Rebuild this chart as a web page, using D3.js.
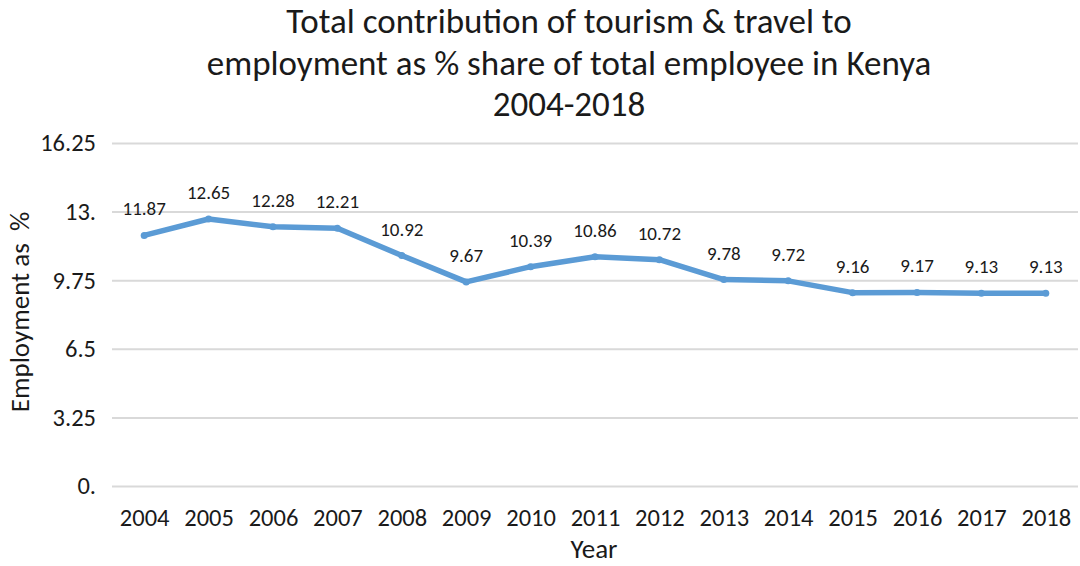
<!DOCTYPE html>
<html>
<head>
<meta charset="utf-8">
<script src="https://cdn.jsdelivr.net/npm/d3@7"></script>
<style>
  html, body { margin: 0; padding: 0; background: #fff; }
  svg { display: block; font-family: Carlito, Calibri, Lato, sans-serif; }
</style>
</head>
<body>
<svg id="chart" width="1080" height="566"></svg>
<script>
// Kenya: travel & tourism total contribution to employment (% of total)
const years = ["2004","2005","2006","2007","2008","2009","2010","2011","2012","2013","2014","2015","2016","2017","2018"];
const shares = [11.87, 12.65, 12.28, 12.21, 10.92, 9.67, 10.39, 10.86, 10.72, 9.78, 9.72, 9.16, 9.17, 9.13, 9.13];
const yTicks = [0, 3.25, 6.5, 9.75, 13, 16.25];
const yTickLabels = ["0.", "3.25", "6.5", "9.75", "13.", "16.25"];
const titleLines = [
  "Total contribution of tourism & travel to",
  "employment as % share of total employee in Kenya",
  "2004-2018"
];

const svg = d3.select("#chart");
const plot = { left: 112, right: 1078, top: 143, bottom: 486 };

const x = d3.scalePoint().domain(years).range([plot.left, plot.right]).padding(0.5);
const y = d3.scaleLinear().domain([0, 16.25]).range([plot.bottom, plot.top]);

// title
svg.append("g").selectAll("text").data(titleLines).join("text")
  .attr("x", 569).attr("y", (d, i) => 33 + i * 41.5)
  .attr("text-anchor", "middle")
  .attr("font-size", 35).attr("fill", "#1a1a1a")
  .text(d => d);

// horizontal gridlines + y labels
const yAxis = d3.axisLeft(y).tickValues(yTicks)
  .tickSize(-(plot.right - plot.left))
  .tickPadding(16)
  .tickFormat((d, i) => yTickLabels[i]);
const gy = svg.append("g").attr("transform", `translate(${plot.left},0)`)
  .call(yAxis).attr("font-family", null).attr("font-size", null);
gy.select(".domain").remove();
gy.selectAll(".tick line").attr("stroke", "#d9d9d9").attr("stroke-width", 2);
gy.selectAll(".tick text").attr("font-size", 24.5).attr("fill", "#1a1a1a");

// x labels
const xAxis = d3.axisBottom(x).tickSize(0).tickPadding(23);
const gx = svg.append("g").attr("transform", `translate(0,${plot.bottom})`)
  .call(xAxis).attr("font-family", null).attr("font-size", null);
gx.select(".domain").remove();
gx.selectAll(".tick text").attr("font-size", 24.5).attr("fill", "#1a1a1a");

// axis titles
svg.append("text")
  .attr("transform", `translate(29,312) rotate(-90)`)
  .attr("text-anchor", "middle").attr("font-size", 27).attr("fill", "#1a1a1a")
  .style("white-space", "pre")
  .text("Employment as  %");
svg.append("text")
  .attr("x", 594).attr("y", 558)
  .attr("text-anchor", "middle").attr("font-size", 27).attr("fill", "#1a1a1a")
  .text("Year");

// series line
const line = d3.line().x((d, i) => x(years[i])).y(d => y(d));
svg.append("path").datum(shares)
  .attr("d", line)
  .attr("fill", "none").attr("stroke", "#5b9bd5")
  .attr("stroke-width", 5.5).attr("stroke-linejoin", "round").attr("stroke-linecap", "round");

svg.append("g").selectAll("circle").data(shares).join("circle")
  .attr("cx", (d, i) => x(years[i])).attr("cy", d => y(d))
  .attr("r", 3.5).attr("fill", "#5b9bd5");

// value labels
svg.append("g").selectAll("text").data(shares).join("text")
  .attr("x", (d, i) => x(years[i])).attr("y", d => y(d) - 20)
  .attr("text-anchor", "middle").attr("font-size", 19).attr("fill", "#1a1a1a")
  .text(d => d.toFixed(2));
</script>
</body>
</html>
